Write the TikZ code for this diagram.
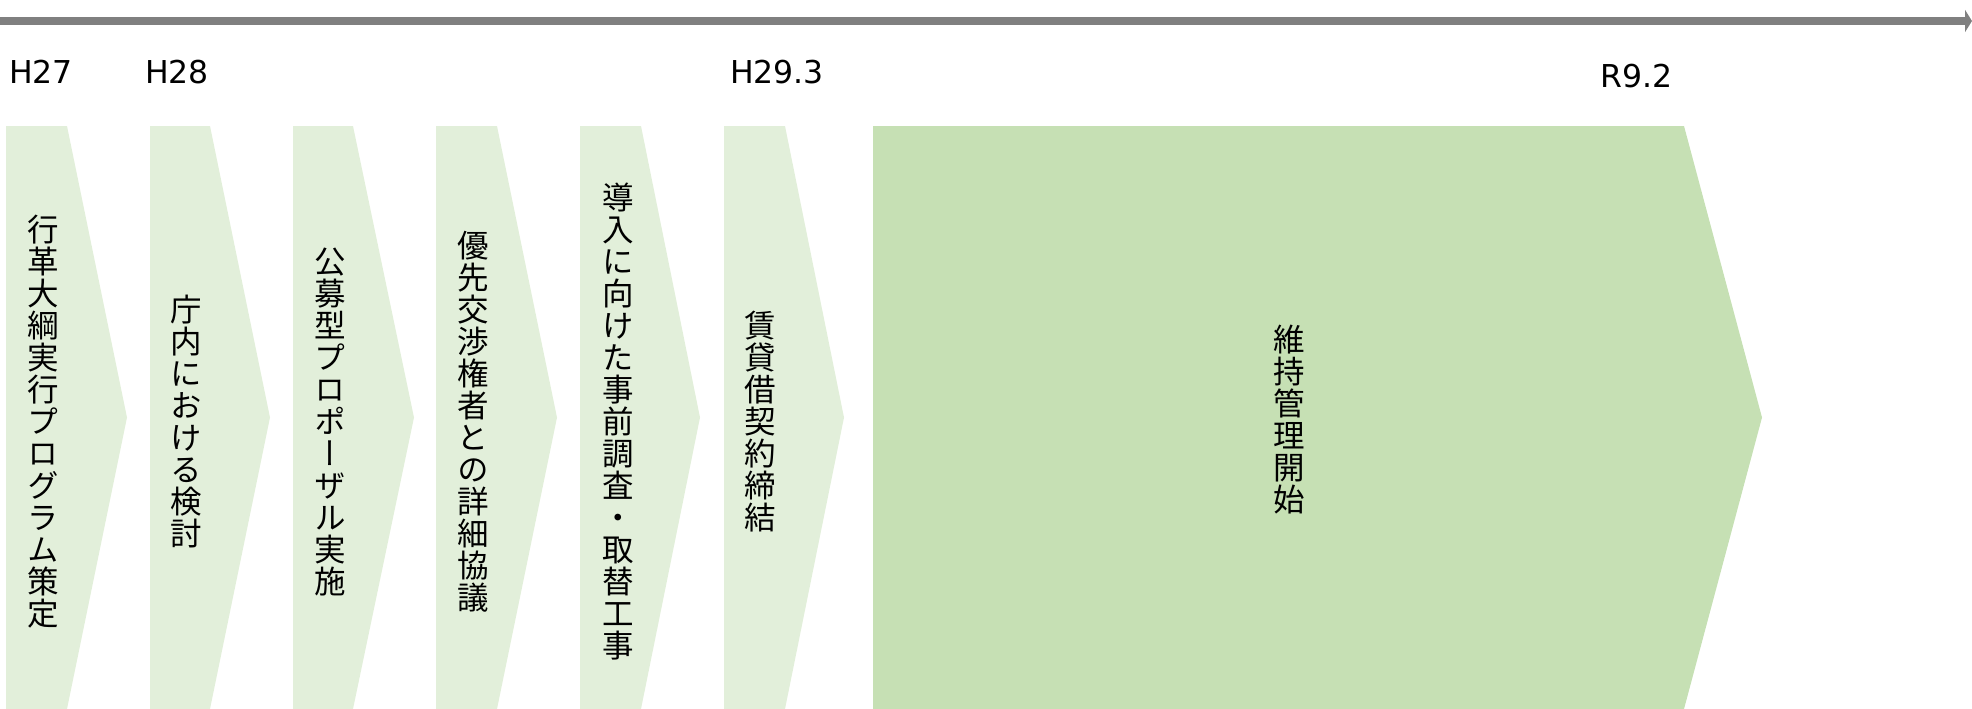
\documentclass[tikz,border=0pt]{standalone}
\usepackage{fontspec}
\usetikzlibrary{arrows.meta}
\newfontfamily\vjp[RawFeature=+vert]{Noto Sans CJK JP}
\newfontfamily\lbfont{DejaVu Sans}
\definecolor{lightg}{HTML}{E2EFDA}
\definecolor{darkg}{HTML}{C6E0B4}
\definecolor{axisgray}{HTML}{808080}
\tikzset{
  vtext/.style={align=center, inner sep=0pt, font=\vjp\fontsize{31.5}{32}\selectfont},
  yearlbl/.style={anchor=base west, inner sep=0pt, font=\lbfont\fontsize{31.5}{33}\selectfont},
  axis/.style={line width=8pt, axisgray, -{Triangle[length=7pt,width=22pt]}},
}
\newcommand{\chev}[4]{% left, topright, tip, color
  \fill[#4] (#1,126) -- (#2,126) -- (#3,417.5) -- (#2,709) -- (#1,709) -- cycle;}
\begin{document}
\begin{tikzpicture}[x=1pt,y=-1pt]
\useasboundingbox (0,0) rectangle (1972,709);
\coordinate (axisL) at (0,21);
\coordinate (axisR) at (1972,21);
\draw[axis] (axisL) -- (axisR);
\node[yearlbl] (h27) at (9,83) {H27};
\node[yearlbl] (h28) at (145,83) {H28};
\node[yearlbl] (h293) at (730,83) {H29.3};
\node[yearlbl] (r92) at (1600,88) {R9.2};
\chev{6}{67}{127}{lightg}
\chev{150}{210}{270}{lightg}
\chev{293}{353}{414}{lightg}
\chev{436}{497}{557}{lightg}
\chev{580}{641}{700}{lightg}
\chev{724}{785}{844}{lightg}
\chev{873}{1684}{1762}{darkg}
\node[vtext] (t1) at (43.5,422) {行\\革\\大\\綱\\実\\行\\プ\\ロ\\グ\\ラ\\ム\\策\\定};
\node[vtext] (t2) at (186,422) {庁\\内\\に\\お\\け\\る\\検\\討};
\node[vtext] (t3) at (330,422) {公\\募\\型\\プ\\ロ\\ポ\\ー\\ザ\\ル\\実\\施};
\node[vtext] (t4) at (473,422) {優\\先\\交\\渉\\権\\者\\と\\の\\詳\\細\\協\\議};
\node[vtext] (t5) at (618,422) {導\\入\\に\\向\\け\\た\\事\\前\\調\\査\\・\\取\\替\\工\\事};
\node[vtext] (t6) at (760,422) {賃\\貸\\借\\契\\約\\締\\結};
\node[vtext] (t7) at (1289,420) {維\\持\\管\\理\\開\\始};
\end{tikzpicture}
\end{document}
